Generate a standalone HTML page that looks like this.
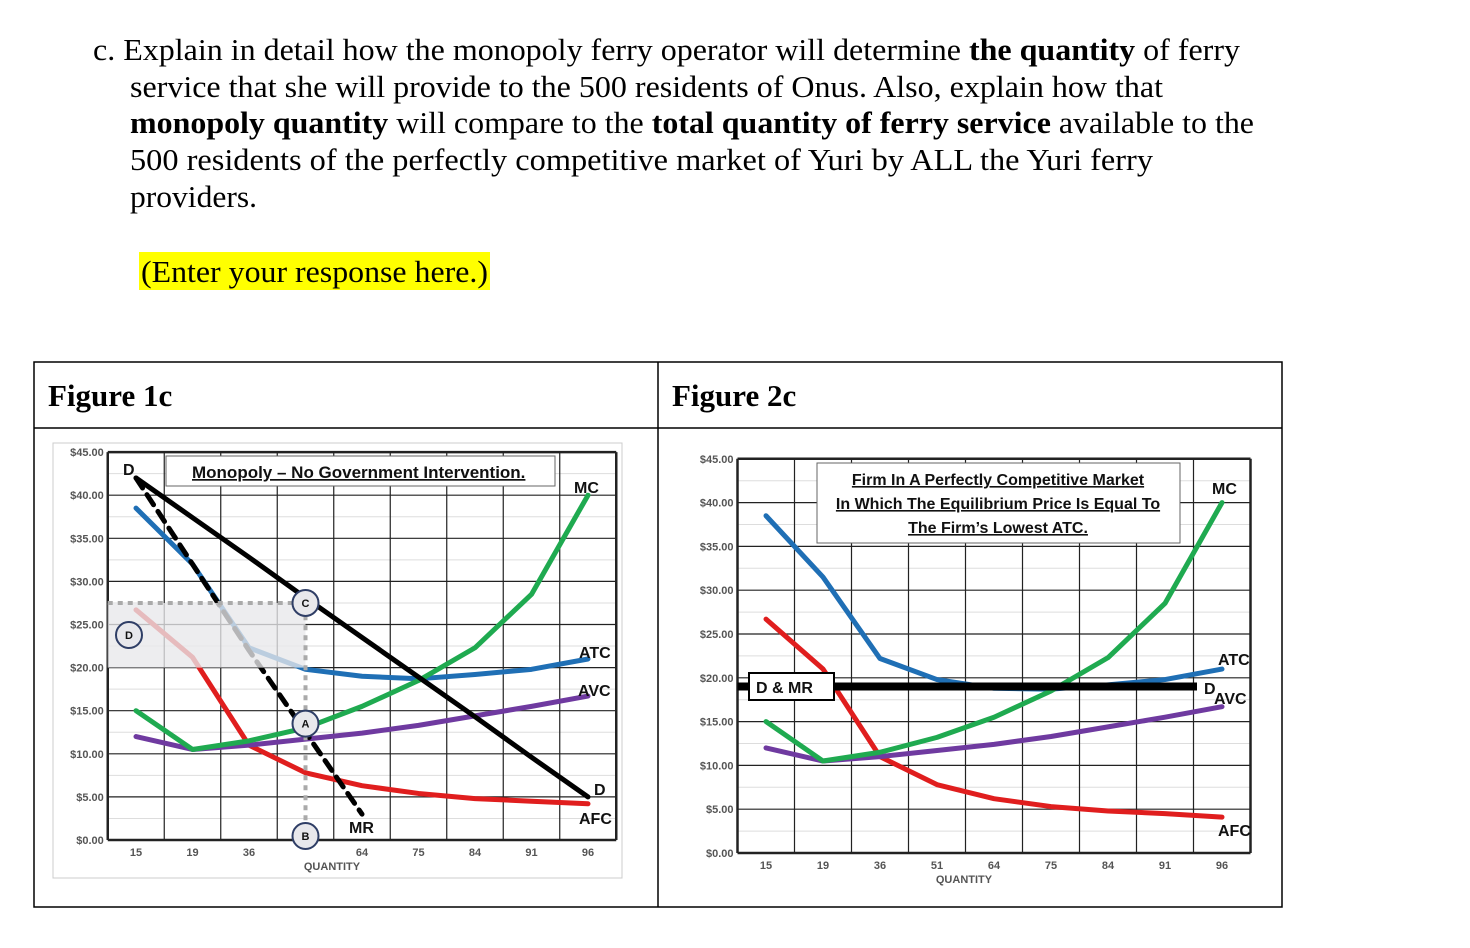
<!DOCTYPE html>
<html><head><meta charset="utf-8"><style>
html,body{margin:0;padding:0;background:#fff;}
svg{display:block;}
.t{font-family:"Liberation Serif",serif;font-size:31px;fill:#000;}
.lab{font-family:"Liberation Sans Narrow","Liberation Sans",sans-serif;font-weight:bold;fill:#111;}
.tick{font-family:"Liberation Sans",sans-serif;font-size:11px;fill:#555;font-weight:bold;}
</style></head><body>
<svg id="page" width="1470" height="948" viewBox="0 0 1470 948" xmlns="http://www.w3.org/2000/svg">
<g>
<text class="t" x="93" y="60" textLength="1147" lengthAdjust="spacingAndGlyphs">c. Explain in detail how the monopoly ferry operator will determine <tspan font-weight="bold">the quantity</tspan> of ferry</text>
<text class="t" x="130" y="97" textLength="1033" lengthAdjust="spacingAndGlyphs">service that she will provide to the 500 residents of Onus. Also, explain how that</text>
<text class="t" x="130" y="133" textLength="1124" lengthAdjust="spacingAndGlyphs"><tspan font-weight="bold">monopoly quantity</tspan> will compare to the <tspan font-weight="bold">total quantity of ferry service</tspan> available to the</text>
<text class="t" x="130" y="170" textLength="1023" lengthAdjust="spacingAndGlyphs">500 residents of the perfectly competitive market of Yuri by ALL the Yuri ferry</text>
<text class="t" x="130" y="207" textLength="127" lengthAdjust="spacingAndGlyphs">providers.</text>
</g>
<rect x="139" y="252" width="351" height="38" fill="#ffff00"/>
<text class="t" x="141" y="282" textLength="347" lengthAdjust="spacingAndGlyphs">(Enter your response here.)</text>

<g fill="none" stroke="#000" stroke-width="1.5">
<rect x="34" y="362" width="1248" height="545"/>
<line x1="34" y1="428" x2="1282" y2="428"/>
<line x1="658" y1="362" x2="658" y2="907"/>
</g>
<text class="t" x="48" y="406" font-weight="bold" font-size="28">Figure 1c</text>
<text class="t" x="672" y="406" font-weight="bold" font-size="28">Figure 2c</text>
<rect x="53" y="443" width="569" height="435" fill="none" stroke="#ccc" stroke-width="1"/>
<g id="c1"></g>
<g id="c2"></g>
</svg>
<script>
const categories = ["15","19","36","51","64","75","84","91","96"];
const yTicks = [0,5,10,15,20,25,30,35,40,45];
const mono_ATC = [38.5,32,22.3,19.8,19,18.7,19.2,19.8,21];
const mono_AFC = [26.7,21.2,11,7.8,6.3,5.4,4.8,4.5,4.2];
const mono_MC = [15,10.5,11.5,13,15.5,18.5,22.3,28.5,40];
const mono_AVC = [12,10.5,11,11.7,12.4,13.3,14.4,15.5,16.7];
const mono_D = [42,37.4,32.8,28.1,23.5,18.9,14.3,9.6,5];
const mono_MR = [42,32,22,12.5,3];
const mono_price = 27.5;
const mono_ATCatQ = 20;
const mono_Qindex = 3;
const comp_ATC = [38.5,31.5,22.2,19.8,18.8,18.7,19.2,19.8,21];
const comp_AFC = [26.7,21,11,7.8,6.2,5.3,4.8,4.5,4.1];
const comp_MC = [15,10.5,11.5,13.2,15.5,18.5,22.3,28.5,40];
const comp_AVC = [12,10.5,11,11.7,12.4,13.3,14.4,15.5,16.7];
const comp_price = 19;

const NS="http://www.w3.org/2000/svg";
function mk(parent,tag,attrs){const e=document.createElementNS(NS,tag);for(const k in attrs)e.setAttribute(k,attrs[k]);parent.appendChild(e);return e;}

function chart(g,o){
  const X=i=>o.x0+i*o.dx, Y=v=>o.yb-v*o.py;
  const L=o.x0-o.dx/2, R=o.x0+8.5*o.dx;
  for(let v=2.5;v<45;v+=5){const l=mk(g,'line',{x1:L,x2:R,y1:Y(v),y2:Y(v),stroke:'#ddd','stroke-width':1});
  }
  yTicks.forEach(v=>{
    const l=mk(g,'line',{x1:L,x2:R,y1:Y(v),y2:Y(v),stroke:'#222','stroke-width':v==0||v==45?2.5:1.2});
    
    const t=mk(g,'text',{x:L-4,y:Y(v)+4,'text-anchor':'end',class:'tick'});t.textContent='$'+v.toFixed(2);
    
  });
  for(let i=0;i<=9;i++){const x=L+i*o.dx;
    const l=mk(g,'line',{x1:x,x2:x,y1:Y(45),y2:Y(0),stroke:'#222','stroke-width':(i==0||i==9)?2.5:1.2});
    }
  categories.forEach((c,i)=>{if(o.hide===i)return;const t=mk(g,'text',{x:X(i),y:Y(0)+16,'text-anchor':'middle',class:'tick'});t.textContent=c;
    });
  const q=mk(g,'text',{x:X(4)-30,y:Y(0)+30,'text-anchor':'middle',class:'tick','font-size':'11'});q.textContent='QUANTITY';
  
  const line=(arr,col,name,w,dash)=>{const p=mk(g,'polyline',{points:arr.map((v,i)=>X(i)+','+Y(v)).join(' '),fill:'none',stroke:col,'stroke-width':w||5,'stroke-linecap':'round','stroke-linejoin':'round'});
    if(dash)p.setAttribute('stroke-dasharray',dash);return p;};
  return {X,Y,L,R,line};
}
function label(g,x,y,txt,size,name){const t=mk(g,'text',{x,y,class:'lab','font-size':size||17});t.textContent=txt;
  return t;}
function circ(g,x,y,txt,name){const c=mk(g,'circle',{cx:x,cy:y,r:13,fill:'#e8e8ec',stroke:'#2f3e66','stroke-width':2});
  
  const t=mk(g,'text',{x,y:y+4,'text-anchor':'middle',class:'lab','font-size':11});t.textContent=txt;
  }

const g1=document.getElementById('c1');
const a=chart(g1,{x0:136,dx:56.5,yb:840,py:8.62,hide:3});
a.line(mono_ATC,'#1f6fb5','atc-line');
a.line(mono_AFC,'#e01e1e','afc-line');
a.line(mono_AVC,'#6f3aa0','avc-line');
a.line(mono_MC,'#1faa50','mc-line');
a.line(mono_D,'#000','demand-line',5);
a.line(mono_MR,'#000','marginal-revenue-line',5,'12 8');
const rx=a.L, ry=a.Y(mono_price), rw=a.X(mono_Qindex)-a.L, rh=a.Y(mono_ATCatQ)-a.Y(mono_price);
const sh=mk(g1,'rect',{x:rx,y:ry,width:rw,height:rh,fill:'rgba(232,232,234,0.78)'});


const d1=mk(g1,'polyline',{points:`${rx},${ry} ${a.X(mono_Qindex)},${ry} ${a.X(mono_Qindex)},${a.Y(0)}`,fill:'none',stroke:'#aaa','stroke-width':4,'stroke-dasharray':'5 5'});


circ(g1,a.X(mono_Qindex),ry,'C','point-c');
circ(g1,a.X(mono_Qindex),a.Y(13.5),'A','point-a');
circ(g1,a.X(mono_Qindex),836,'B','point-b');
circ(g1,129,635,'D','point-d');
const tb=mk(g1,'rect',{x:166,y:456,width:389,height:30,fill:'#fff',stroke:'#666','stroke-width':1});


label(g1,192,478,'Monopoly – No Government Intervention.',17,'chart-title').setAttribute('text-decoration','underline');
label(g1,123,475,'D',16,'demand-label-top');
label(g1,574,493,'MC',16,'mc-label');
label(g1,579,658,'ATC',16,'atc-label');
label(g1,578,696,'AVC',16,'avc-label');
label(g1,594,795,'D',16,'demand-label-bottom');
label(g1,579,824,'AFC',16,'afc-label');
label(g1,349,833,'MR',16,'mr-label');

const g2=document.getElementById('c2');
const b=chart(g2,{x0:766,dx:57,yb:853,py:8.76});
b.line(comp_ATC,'#1f6fb5','atc-line');
b.line(comp_AFC,'#e01e1e','afc-line');
b.line(comp_AVC,'#6f3aa0','avc-line');
b.line(comp_MC,'#1faa50','mc-line');
const dm=mk(g2,'line',{x1:b.L,x2:1197,y1:b.Y(comp_price),y2:b.Y(comp_price),stroke:'#000','stroke-width':8});


const db=mk(g2,'rect',{x:749,y:673,width:85,height:27,fill:'#fff',stroke:'#000','stroke-width':2});


label(g2,756,693,'D & MR',16,'d-mr-label');
const tb2=mk(g2,'rect',{x:817,y:463,width:363,height:80,fill:'#fff',stroke:'#666','stroke-width':1});


['Firm In A Perfectly Competitive Market','In Which The Equilibrium Price Is Equal To','The Firm’s Lowest ATC.'].forEach((s,i)=>{
  const t=label(g2,998,485+i*24,s,16,'chart-title-line');t.setAttribute('text-anchor','middle');t.setAttribute('text-decoration','underline');});
label(g2,1212,494,'MC',16,'mc-label');
label(g2,1218,665,'ATC',16,'atc-label');
label(g2,1204,694,'D',16,'demand-label');
label(g2,1214,704,'AVC',16,'avc-label');
label(g2,1218,836,'AFC',16,'afc-label');
</script>
</body></html>
